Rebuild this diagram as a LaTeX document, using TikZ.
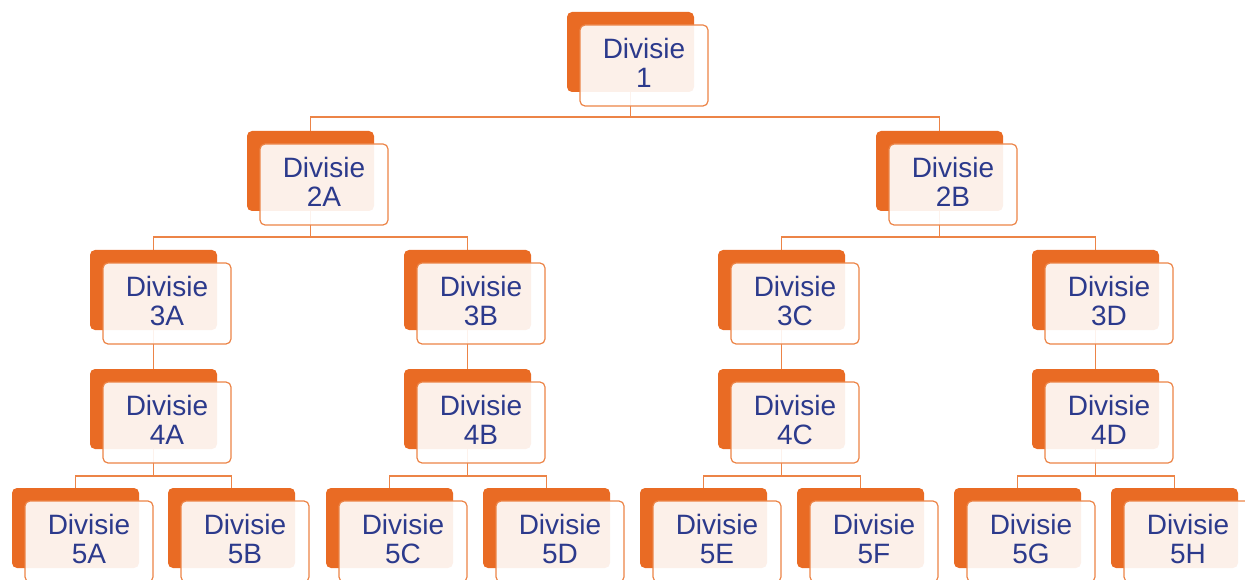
\documentclass[tikz,border=0pt]{standalone}
\usepackage{fontspec}
\setmainfont{Liberation Sans}
\usetikzlibrary{backgrounds}
\definecolor{orangeA}{HTML}{E96B24}
\definecolor{orangeL}{HTML}{EC8447}
\definecolor{textblue}{HTML}{2C3A8C}
\tikzset{
  backbox/.style={rounded corners=5pt, fill=orangeA, minimum width=127pt, minimum height=80pt, anchor=north west, inner sep=0pt, outer sep=0pt},
  frontbox/.style={rounded corners=5pt, draw=orangeL, line width=1.2pt, fill=white, fill opacity=0.9, text opacity=1, minimum width=128pt, minimum height=81pt, anchor=north west, inner sep=0pt, outer sep=0pt, text=textblue, align=center, font=\fontsize{28}{29}\selectfont},
  conn/.style={draw=orangeL, line width=1.2pt}
}
\newcommand\DivBox[4]{%
  \node[backbox] (b#1) at (#2,#3) {};
  \node[frontbox] (f#1) at (#2+13,#3+13) {Divisie\\#4\rule[-6pt]{0pt}{0pt}};
}
\begin{document}
\begin{tikzpicture}[x=1pt,y=-1pt]
\useasboundingbox (0,0) rectangle (1245,580);
\DivBox{1}{567}{12}{1}
\DivBox{2A}{247}{131}{2A}
\DivBox{2B}{876}{131}{2B}
\DivBox{3A}{90}{250}{3A}
\DivBox{3B}{404}{250}{3B}
\DivBox{3C}{718}{250}{3C}
\DivBox{3D}{1032}{250}{3D}
\DivBox{4A}{90}{369}{4A}
\DivBox{4B}{404}{369}{4B}
\DivBox{4C}{718}{369}{4C}
\DivBox{4D}{1032}{369}{4D}
\DivBox{5A}{12}{488}{5A}
\DivBox{5B}{168}{488}{5B}
\DivBox{5C}{326}{488}{5C}
\DivBox{5D}{483}{488}{5D}
\DivBox{5E}{640}{488}{5E}
\DivBox{5F}{797}{488}{5F}
\DivBox{5G}{954}{488}{5G}
\DivBox{5H}{1111}{488}{5H}
\begin{scope}[on background layer]
\draw[conn] (b2A.north) -- ++(0,-14) -| (b1.south);
\draw[conn] (b2B.north) -- ++(0,-14) -| (b1.south);
\draw[conn] (b3A.north) -- ++(0,-13) -| (b2A.south);
\draw[conn] (b3B.north) -- ++(0,-13) -| (b2A.south);
\draw[conn] (b3C.north) -- ++(0,-13) -| (b2B.south);
\draw[conn] (b3D.north) -- ++(0,-13) -| (b2B.south);
\draw[conn] (b3A.south) -- (b4A.north);
\draw[conn] (b3B.south) -- (b4B.north);
\draw[conn] (b3C.south) -- (b4C.north);
\draw[conn] (b3D.south) -- (b4D.north);
\draw[conn] (b5A.north) -- ++(0,-12) -| (b4A.south);
\draw[conn] (b5B.north) -- ++(0,-12) -| (b4A.south);
\draw[conn] (b5C.north) -- ++(0,-12) -| (b4B.south);
\draw[conn] (b5D.north) -- ++(0,-12) -| (b4B.south);
\draw[conn] (b5E.north) -- ++(0,-12) -| (b4C.south);
\draw[conn] (b5F.north) -- ++(0,-12) -| (b4C.south);
\draw[conn] (b5G.north) -- ++(0,-12) -| (b4D.south);
\draw[conn] (b5H.north) -- ++(0,-12) -| (b4D.south);
\end{scope}
\end{tikzpicture}
\end{document}
